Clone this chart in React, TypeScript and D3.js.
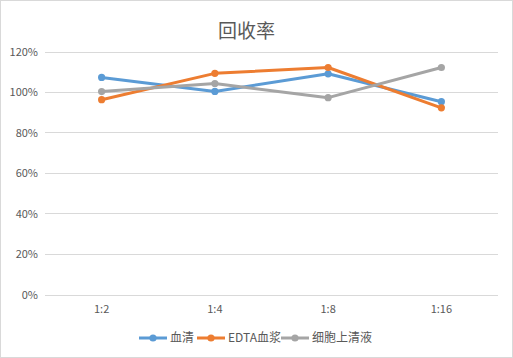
import React from "react";
import * as d3 from "d3";

const categories = ["1:2", "1:4", "1:8", "1:16"];
const seriesNames = ["血清", "EDTA血浆", "细胞上清液"];
const serum = [1.072, 1.003, 1.09, 0.952];
const edta = [0.962, 1.092, 1.121, 0.922];
const cellSup = [1.002, 1.042, 0.972, 1.121];
const yTicks = [0, 0.2, 0.4, 0.6, 0.8, 1.0, 1.2];
const colors = ["#5B9BD5", "#ED7D31", "#A5A5A5"];

export default function App() {
  const W = 513, H = 358;
  const x = d3.scaleBand<string>().domain(categories).range([45, 498]);
  const y = d3.scaleLinear().domain([0, 1.2]).range([294.5, 51.5]);
  const fmt = d3.format(".0%");
  const line = d3
    .line<number>()
    .x((_, i) => (x(categories[i]) as number) + x.bandwidth() / 2)
    .y((d) => y(d));
  const all = [serum, edta, cellSup];
  const font = "'Microsoft YaHei', 'Noto Sans CJK SC', 'DejaVu Sans', sans-serif";
  const legendX = [139, 197, 281];
  return (
    <div style={{ position: "fixed", left: 0, top: 0 }}>
      <svg width={W} height={H} style={{ display: "block" }} fontFamily={font}>
        <rect x={0.5} y={0.5} width={W - 1} height={H - 1} fill="#fff" stroke="#D9D9D9" />
        <text x={246.5} y={38} textAnchor="middle" fontSize={19} fill="#595959">
          回收率
        </text>
        {yTicks.map((t) => (
          <g key={t}>
            <line x1={45} x2={498} y1={Math.round(y(t)) + 0.5} y2={Math.round(y(t)) + 0.5} stroke="#D9D9D9" />
            <text x={38} y={y(t) + 4} textAnchor="end" fontSize={11} fill="#595959">
              {fmt(t)}
            </text>
          </g>
        ))}
        {categories.map((c) => (
          <text key={c} x={(x(c) as number) + x.bandwidth() / 2} y={313} textAnchor="middle" fontSize={11} fill="#595959">
            {c}
          </text>
        ))}
        {all.map((s, si) => (
          <g key={si}>
            <path d={line(s) || ""} fill="none" stroke={colors[si]} strokeWidth={3} strokeLinejoin="round" strokeLinecap="round" />
            {s.map((v, i) => (
              <circle key={i} cx={(x(categories[i]) as number) + x.bandwidth() / 2} cy={y(v)} r={3.6} fill={colors[si]} />
            ))}
          </g>
        ))}
        {seriesNames.map((n, i) => (
          <g key={n}>
            <line x1={legendX[i]} x2={legendX[i] + 28} y1={338} y2={338} stroke={colors[i]} strokeWidth={3} />
            <circle cx={legendX[i] + 14} cy={338} r={3.6} fill={colors[i]} />
            <text x={legendX[i] + 31} y={342} fontSize={12} fill="#595959">
              {n}
            </text>
          </g>
        ))}
      </svg>
    </div>
  );
}
